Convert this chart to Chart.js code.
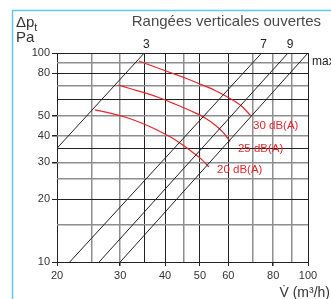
<!DOCTYPE html>
<html><head><meta charset="utf-8">
<script src="https://cdn.jsdelivr.net/npm/chart.js@4.4.1/dist/chart.umd.min.js"></script>
<style>html,body{margin:0;padding:0;background:#fff;overflow:hidden}#wrap{position:relative;width:331px;height:299px}</style>
</head><body><div id="wrap"><canvas id="c" width="331" height="299"></canvas></div>
<script>
// ---- texts ----
const chartTitle = 'Rangées verticales ouvertes';
const yTitleMain = 'Δp';
const yTitleSub = 't';
const yTitleUnit = 'Pa';
const xTitle = 'V̇ (m³/h)';

// ---- ticks / grid values ----
const xGrid = [20, 25, 30, 35, 40, 45, 50, 60, 70, 80, 90, 100];
const xLabels = [20, 30, 40, 50, 60, 80, 100];
const yGrid = [10, 15, 20, 25, 30, 35, 40, 50, 60, 70, 80, 90, 100];
const yLabels = [10, 20, 30, 40, 50, 80, 100];

// ---- system lines (V in m3/h, dp in Pa) ----
const lineNames = ['3', '7', '9', 'max'];
const line3V = [20, 35];      const line3P = [35, 100];
const line7V = [21.7, 74.3];  const line7P = [10, 100];
const line9V = [26.2, 88];    const line9P = [10, 100];
const lineMaxV = [30, 100];   const lineMaxP = [10, 100];

// ---- noise curves ----
const noiseNames = ['30 dB(A)', '25 dB(A)', '20 dB(A)'];
const c30V = [33.8, 37.5, 41.3, 45.5, 50.0, 55.1, 60.7, 65.5, 69.4];
const c30P = [91.6, 85.7, 80.7, 75.9, 71.1, 66.2, 60.6, 55.5, 49.9];
const c25V = [29.6, 31.9, 35.2, 38.7, 42.6, 46.9, 51.7, 55.1, 58.0, 60.7];
const c25P = [70.3, 67.6, 64.4, 60.9, 57.0, 53.1, 48.9, 45.2, 41.7, 37.7];
const c20V = [25.5, 28.1, 30.9, 34.1, 37.5, 41.3, 44.6, 47.8, 50.7, 53.0];
const c20P = [53.4, 51.6, 49.4, 46.5, 43.3, 39.7, 36.5, 33.4, 30.8, 28.5];
// label anchors (left edge, middle)
const noiseLabelV = [70.3, 63.8, 55.8];
const noiseLabelP = [44.9, 34.9, 27.6];

const zip = (a, b) => a.map((v, i) => ({x: v, y: b[i]}));

const DARK = '#222222', GRAY = '#8e8e8e', RED = '#e8262d';
const xDark = new Set([20, 35, 40, 50, 60, 100]);
const yDark = new Set([10, 20, 35, 60, 80, 100]);
const FONT = '"Liberation Sans", Arial, sans-serif';

const blackLine = (name, v, p) => ({label: name, data: zip(v, p), showLine: true, borderColor: DARK, borderWidth: 1, pointRadius: 0, tension: 0});
const redLine = (name, v, p) => ({label: name, data: zip(v, p), showLine: true, borderColor: RED, borderWidth: 1.2, pointRadius: 0, cubicInterpolationMode: 'monotone'});

const datasets = [
  blackLine(lineNames[0], line3V, line3P),
  blackLine(lineNames[1], line7V, line7P),
  blackLine(lineNames[2], line9V, line9P),
  blackLine(lineNames[3], lineMaxV, lineMaxP),
  redLine(noiseNames[0], c30V, c30P),
  redLine(noiseNames[1], c25V, c25P),
  redLine(noiseNames[2], c20V, c20P)
];

const deco = {
  id: 'deco',
  beforeDraw(chart) {
    const c = chart.ctx;
    c.save();
    c.fillStyle = '#fff';
    c.fillRect(0, 0, chart.width, chart.height);
    c.strokeStyle = '#62c6ee';
    c.lineWidth = 1.5;
    c.beginPath();
    c.moveTo(12.5, chart.height);
    c.lineTo(12.5, 10.5);
    c.lineTo(chart.width, 10.5);
    c.stroke();
    c.restore();
  },
  afterDraw(chart) {
    const c = chart.ctx, xs = chart.scales.x, ys = chart.scales.y, a = chart.chartArea;
    c.save();
    c.fillStyle = '#4a4a4a';
    c.font = '15px ' + FONT;
    c.textAlign = 'right'; c.textBaseline = 'alphabetic';
    c.fillText(chartTitle, 321, 26);
    c.fillStyle = '#333';
    c.textAlign = 'left';
    c.font = '15px ' + FONT;
    c.fillText(yTitleMain, 16, 27);
    const w = c.measureText(yTitleMain).width;
    c.font = '11px ' + FONT;
    c.fillText(yTitleSub, 16 + w, 31);
    c.font = '15px ' + FONT;
    c.fillText(yTitleUnit, 16, 42);
    c.font = '14px ' + FONT;
    c.textAlign = 'right';
    c.fillText(xTitle, 330, 297);
    c.font = '12px ' + FONT;
    c.fillStyle = '#222';
    c.textAlign = 'center'; c.textBaseline = 'alphabetic';
    for (let i = 0; i < 3; i++) {
      const d = chart.data.datasets[i].data;
      const last = d[d.length - 1];
      c.fillText(chart.data.datasets[i].label, xs.getPixelForValue(last.x) + 2, ys.getPixelForValue(last.y) - 5);
    }
    c.textAlign = 'left'; c.textBaseline = 'middle';
    c.fillText(chart.data.datasets[3].label, a.right + 4, a.top + 9);
    c.fillStyle = RED;
    c.font = '11.5px ' + FONT;
    for (let i = 0; i < noiseNames.length; i++) {
      c.fillText(noiseNames[i], xs.getPixelForValue(noiseLabelV[i]), ys.getPixelForValue(noiseLabelP[i]));
    }
    c.restore();
  }
};

new Chart(document.getElementById('c'), {
  type: 'scatter',
  data: {datasets},
  options: {
    responsive: false, animation: false, devicePixelRatio: 1,
    layout: {padding: {left: 0, top: 53, right: 23, bottom: 0}},
    plugins: {legend: {display: false}, tooltip: {enabled: false}},
    scales: {
      x: {
        type: 'logarithmic', min: 20, max: 100, position: 'bottom',
        afterBuildTicks: s => { s.ticks = xGrid.map(v => ({value: v})); },
        afterFit: s => { s.height = 37; },
        border: {display: false},
        ticks: {autoSkip: false, maxRotation: 0, padding: 3, color: '#333', font: {family: FONT, size: 11},
          callback: v => xLabels.includes(v) ? String(v) : ''},
        grid: {
          color: ctx => xDark.has(ctx.tick && ctx.tick.value) ? DARK : GRAY,
          lineWidth: ctx => xDark.has(ctx.tick && ctx.tick.value) ? 1 : 1.5,
          tickLength: 4,
          tickColor: ctx => xLabels.includes(ctx.tick && ctx.tick.value) ? DARK : 'rgba(0,0,0,0)'
        }
      },
      y: {
        type: 'logarithmic', min: 10, max: 100,
        afterBuildTicks: s => { s.ticks = yGrid.map(v => ({value: v})); },
        afterFit: s => { s.width = 57; },
        border: {display: false},
        ticks: {autoSkip: false, padding: 2, color: '#333', font: {family: FONT, size: 11},
          callback: v => yLabels.includes(v) ? String(v) : ''},
        grid: {
          color: ctx => yDark.has(ctx.tick && ctx.tick.value) ? DARK : GRAY,
          lineWidth: ctx => yDark.has(ctx.tick && ctx.tick.value) ? 1 : 1.5,
          tickLength: 5,
          tickColor: ctx => yLabels.includes(ctx.tick && ctx.tick.value) ? DARK : 'rgba(0,0,0,0)'
        }
      }
    }
  },
  plugins: [deco]
});
</script></body></html>
